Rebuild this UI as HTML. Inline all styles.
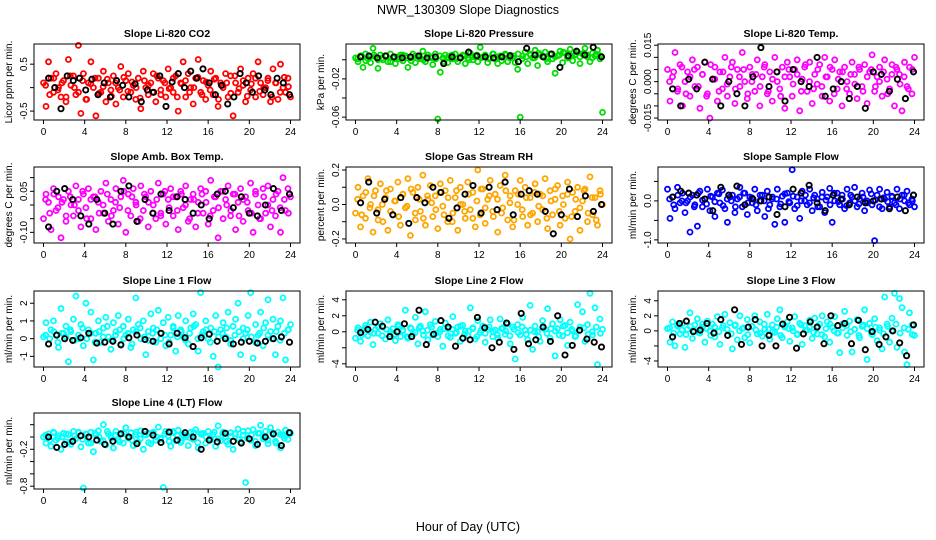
<!DOCTYPE html>
<html><head><meta charset="utf-8"><title>NWR_130309 Slope Diagnostics</title>
<style>html,body{margin:0;padding:0;background:#fff}svg{display:block;font-family:"Liberation Sans",Arial,sans-serif}</style>
</head><body>
<svg id="chart" width="936" height="540" viewBox="0 0 936 540" xmlns="http://www.w3.org/2000/svg">
<text x="468" y="14" text-anchor="middle" font-size="12.5">NWR_130309  Slope Diagnostics</text>
<text x="468" y="531" text-anchor="middle" font-size="12.5">Hour of Day (UTC)</text>
</svg>
<script>
const xTicks=[0,4,8,12,16,20,24];
const c1=[0.1,-0.4,0.55,0.2,-0.1,0.3,0.0,-0.2,0.15,-0.3,0.6,0.05,0.25,-0.15,0.9,-0.55,0.3,-0.25,0.1,0.55,0.0,-0.6,0.2,-0.1,0.35,-0.3,0.1,-0.05,0.25,-0.35,0.0,0.45,-0.2,0.15,0.3,-0.1,0.05,-0.25,0.2,-0.45,0.35,0.0,-0.15,0.1,0.3,-0.3,0.2,-0.05,0.15,-0.2,0.4,0.0,-0.1,0.25,-0.5,0.1,0.55,-0.2,0.3,0.0,-0.35,0.2,0.6,-0.1,0.15,-0.25,0.05,0.35,-0.15,0.2,-0.4,0.1,0.0,0.3,-0.2,0.25,-0.6,0.1,-0.1,0.4,0.05,-0.3,0.2,-0.05,0.3,-0.2,0.55,0.1,-0.15,0.0,0.2,-0.3,0.4,0.1,-0.25,0.5,0.0,-0.1,0.2,-0.2];
const d1=[0.05,-0.15,0.2,-0.05,0.1,-0.2,0.25,0.0,-0.1,0.15,-0.25,0.08,0.2,-0.12,0.02,0.18,-0.18,0.1,-0.05,0.22,-0.08,0.12,0.0,-0.22,0.15,0.05,-0.1,0.25,-0.15,0.1,-0.02,0.2,-0.2,0.08,0.15,-0.1,0.0,0.22,-0.15,0.12,-0.05,0.18,-0.25,0.05,0.1,-0.12,0.25,-0.02,0.15,-0.18,0.08,0.2,-0.08,0.0,0.15,-0.2,0.1,-0.1,0.22,0.02];
const b1=[0.2,0.0,-0.45,0.25,0.15,0.2,-0.05,0.18,-0.15,0.1,-0.2,0.15,0.05,-0.2,0.08,-0.3,-0.05,-0.1,0.25,-0.4,0.12,0.3,0.0,0.35,0.2,0.4,0.1,-0.15,0.05,-0.35,-0.2,0.3,0.1,-0.1,0.25,-0.05,-0.15,0.2,0.1,-0.15];
const c2=[0.002,-0.002,0.004,-0.008,0.006,0.001,-0.003,0.012,0.003,-0.009,0.005,0.0,0.004,-0.002,0.006,0.002,-0.004,0.003,0.005,-0.001,0.004,-0.008,0.002,0.006,-0.003,0.004,0.001,0.009,-0.002,0.005,0.003,-0.005,0.006,-0.062,-0.013,0.002,0.005,-0.003,0.004,0.001,0.006,-0.002,0.003,0.005,-0.004,0.002,0.007,0.0,0.004,-0.002,0.013,0.003,0.005,-0.003,0.002,0.006,0.001,-0.004,0.004,0.003,0.006,-0.002,0.005,0.002,-0.003,-0.01,-0.06,0.004,0.008,-0.004,0.006,0.002,0.01,-0.006,0.005,0.003,0.008,-0.002,0.006,0.001,-0.014,0.004,0.009,-0.003,0.007,0.002,0.011,-0.001,0.005,0.008,-0.004,0.006,0.012,0.003,-0.002,0.007,0.004,0.01,0.001,-0.055];
const d2=[0.001,0.004,-0.001,0.003,0.005,0.0,0.002,0.004,-0.002,0.003,0.001,0.005,0.002,-0.001,0.004,0.003,0.0,0.005,0.002,0.001,0.004,-0.002,0.003,0.005,0.001,0.002,0.004,0.0,0.003,0.005,0.002,0.004,0.001,0.006,0.003,-0.001,0.005,0.002,0.004,0.006,0.001,0.003,0.005,0.002,0.007,0.004,0.001,0.006,0.003,0.005,0.008,0.002,0.004,0.006,0.003,0.007,0.005,0.002,0.006,0.004];
const b2=[0.003,0.004,0.002,0.004,0.003,0.002,0.003,0.004,0.002,0.003,-0.004,0.003,0.002,0.008,0.004,0.003,0.002,0.003,0.004,-0.002,0.012,0.005,0.003,0.006,-0.008,0.004,0.009,0.005,0.013,0.003];
const c3=[0.005,-0.008,0.002,0.012,-0.004,0.007,-0.01,0.0,0.004,-0.006,0.009,-0.002,0.006,-0.011,0.003,0.008,-0.005,-0.015,0.001,0.006,-0.008,0.004,-0.003,0.01,-0.006,0.002,0.008,-0.009,0.005,-0.002,0.012,0.0,-0.007,0.006,0.003,-0.004,0.009,-0.01,0.002,0.007,-0.005,0.004,-0.008,0.01,0.0,-0.003,0.006,-0.011,0.008,0.002,-0.006,0.005,0.009,-0.012,0.001,0.006,-0.004,0.008,-0.009,0.003,-0.001,0.007,-0.006,0.01,0.002,-0.008,0.005,0.009,-0.003,0.004,-0.01,0.006,0.0,-0.005,0.008,0.003,-0.007,0.005,-0.002,0.007,-0.009,0.004,0.011,-0.004,0.002,0.006,-0.006,0.009,0.001,-0.003,0.007,-0.01,0.005,0.003,-0.012,0.008,-0.002,0.006,-0.005,0.01];
const d3=[0.0,0.004,-0.003,0.006,-0.005,0.002,0.005,-0.002,0.003,-0.006,0.007,0.001,-0.004,0.004,-0.001,0.006,-0.003,0.002,0.005,-0.005,0.0,0.003,-0.002,0.006,-0.004,0.001,0.004,-0.006,0.002,0.005,-0.001,0.003,-0.004,0.007,0.0,-0.003,0.005,-0.002,0.002,0.006,-0.005,0.001,0.004,-0.003,0.003,-0.001,0.006,-0.004,0.002,0.005,-0.002,0.0,0.004,-0.005,0.003,0.006,-0.001,0.002,-0.003,0.005];
const b3=[-0.003,-0.01,0.001,-0.003,0.008,0.001,-0.01,0.0,-0.005,-0.01,0.002,0.014,-0.002,0.004,-0.008,0.005,0.0,-0.002,0.01,-0.006,-0.003,0.0,-0.007,-0.002,-0.011,0.004,0.003,-0.004,0.001,-0.007,0.004];
const c4=[-0.05,0.04,0.01,-0.09,0.06,-0.02,0.03,-0.12,0.02,-0.06,0.05,0.0,-0.04,0.07,0.02,-0.08,0.04,-0.01,0.06,-0.05,0.03,-0.09,0.01,0.05,-0.03,0.08,-0.06,0.02,-0.02,0.06,-0.07,0.03,0.09,-0.1,0.04,-0.04,0.06,0.01,-0.06,0.07,-0.02,0.03,-0.08,0.05,0.0,-0.05,0.08,-0.03,0.04,-0.07,0.02,0.06,-0.04,0.03,-0.09,0.05,-0.01,0.07,-0.06,0.02,0.04,-0.08,0.01,0.06,-0.03,0.05,-0.07,0.09,-0.02,0.03,-0.12,0.05,-0.05,0.02,0.07,-0.04,0.04,-0.09,0.01,0.06,-0.06,0.03,-0.02,0.08,-0.1,0.04,0.0,-0.05,0.06,-0.03,0.07,-0.08,0.02,-0.04,0.05,-0.1,0.1,-0.02,0.06,0.03];
const d4=[0.02,-0.03,0.04,-0.01,0.01,-0.04,0.03,0.0,-0.02,0.05,-0.05,0.02,0.03,-0.03,0.0,0.04,-0.04,0.01,-0.01,0.05,-0.02,0.03,0.0,-0.05,0.04,0.01,-0.03,0.02,-0.04,0.05,-0.01,0.03,-0.02,0.04,0.0,-0.05,0.02,-0.03,0.04,0.01,-0.04,0.03,-0.01,0.05,0.0,-0.02,0.04,-0.04,0.02,0.01,-0.03,0.05,-0.05,0.03,0.0,-0.02,0.04,-0.01,0.02,-0.03];
const b4=[-0.08,0.05,0.06,0.02,-0.04,-0.07,0.02,-0.03,-0.07,0.05,0.07,-0.06,0.02,-0.03,0.04,-0.02,0.03,0.02,-0.03,0.0,-0.05,0.04,0.05,-0.01,0.03,-0.03,-0.04,0.0,0.06,-0.02,0.04];
const c5=[-0.05,0.1,-0.13,0.05,-0.08,0.15,0.0,-0.16,0.08,-0.03,0.12,-0.1,0.04,-0.15,0.09,-0.06,0.02,0.13,-0.12,0.06,-0.02,0.15,-0.18,0.07,-0.09,0.1,-0.04,0.17,-0.12,0.03,0.11,-0.07,0.05,-0.14,0.12,-0.01,0.08,-0.1,0.14,-0.05,0.04,-0.15,0.1,0.0,-0.08,0.13,-0.03,0.07,-0.13,0.2,-0.06,0.09,-0.11,0.03,0.14,-0.04,0.06,-0.16,0.11,-0.02,0.17,-0.09,0.05,-0.13,0.08,0.0,0.14,-0.07,0.1,-0.12,0.04,-0.05,0.12,-0.1,0.06,-0.03,0.15,-0.14,0.08,-0.06,0.03,0.11,-0.12,0.05,-0.08,0.13,-0.2,0.07,-0.04,0.1,-0.15,0.02,0.09,-0.1,0.16,-0.06,0.04,-0.12,0.08,0.0];
const d5=[0.03,-0.06,0.07,-0.02,0.05,-0.09,0.0,0.08,-0.04,0.02,-0.07,0.06,-0.01,0.09,-0.05,0.03,-0.08,0.05,0.01,-0.03,0.07,-0.06,0.04,-0.1,0.08,0.0,-0.04,0.06,-0.08,0.02,0.09,-0.02,0.05,-0.07,0.03,-0.05,0.08,0.01,-0.09,0.06,-0.03,0.04,-0.06,0.07,-0.01,0.05,-0.08,0.02,0.09,-0.04,0.0,0.06,-0.07,0.03,-0.02,0.08,-0.05,0.04,-0.09,0.06];
const b5=[0.01,0.13,-0.05,0.03,-0.06,0.04,-0.11,0.04,0.01,0.1,0.07,-0.08,-0.02,0.06,0.11,-0.05,0.1,-0.03,0.13,-0.06,0.06,0.08,0.06,-0.04,-0.17,-0.06,0.09,-0.07,0.05,-0.04,0.0];
const c6=[0.3,-0.45,0.1,-0.2,0.35,-0.05,0.2,-0.3,0.0,-0.8,0.15,-0.1,-0.65,0.25,-0.15,0.05,0.3,-0.25,0.1,-0.4,0.2,-0.05,0.28,-0.2,-0.55,0.1,0.15,-0.3,0.05,0.35,-0.15,0.2,-0.35,0.1,-0.05,0.3,-0.25,0.0,0.15,-0.4,0.25,-0.1,0.05,-0.6,0.3,-0.15,0.12,-0.55,0.2,-0.05,0.8,-0.2,0.1,-0.45,0.25,0.0,-0.1,0.3,-0.25,0.15,0.05,-0.15,0.22,-0.3,0.1,0.32,-0.55,0.0,0.2,-0.1,0.15,-0.2,0.3,-0.05,0.1,0.35,-0.15,0.05,0.2,-0.25,0.0,0.28,-0.1,-1.02,0.15,0.3,-0.2,0.05,0.22,-0.15,0.1,-0.05,0.3,-0.2,0.15,0.0,0.25,-0.1,0.05,-0.15];
const d6=[0.05,-0.1,0.15,0.0,-0.05,0.1,-0.15,0.2,0.02,-0.08,0.12,-0.02,0.18,-0.12,0.05,0.0,-0.15,0.1,0.2,-0.05,0.08,-0.1,0.15,0.0,-0.2,0.1,0.05,-0.08,0.18,-0.02,0.12,-0.12,0.0,0.15,-0.05,0.08,-0.15,0.1,0.02,-0.1,0.2,-0.02,0.05,-0.12,0.15,0.0,-0.08,0.1,-0.05,0.18,0.02,-0.15,0.08,-0.02,0.12,-0.1,0.05,0.15,-0.05,0.0];
const b6=[0.1,0.25,0.2,0.15,0.05,-0.25,0.35,0.15,0.38,-0.1,0.05,0.0,0.1,-0.35,-0.15,0.3,0.2,0.4,-0.05,-0.25,0.15,0.05,-0.1,0.1,-0.05,0.0,0.05,-0.2,0.1,-0.25,0.15];
const c7=[0.1,0.9,-0.3,0.5,1.0,0.2,-0.5,1.7,0.3,0.7,-1.3,0.4,1.1,2.4,0.0,0.8,-0.4,2.0,0.5,1.5,-1.2,0.3,1.0,-0.2,0.6,1.2,0.1,-0.6,0.9,0.4,1.3,-0.3,0.7,0.2,1.1,-0.5,0.5,2.3,0.8,0.0,1.0,-0.9,0.4,1.4,0.6,-0.2,1.6,0.3,0.9,-0.4,1.2,0.2,0.7,-0.7,1.3,0.5,0.1,1.0,-0.3,0.6,1.4,0.8,-0.7,2.6,0.4,1.0,0.0,0.6,-1.0,1.3,-1.6,0.5,0.9,0.1,1.5,-0.3,0.7,1.1,2.0,-0.9,0.6,0.3,1.3,2.6,-1.1,0.8,0.2,1.5,-0.4,0.9,2.2,0.4,1.1,-0.9,0.7,1.0,2.3,-1.2,0.5,0.8];
const d7=[0.2,0.0,0.4,-0.2,0.3,0.1,0.5,-0.1,0.2,0.6,0.0,0.3,-0.2,0.4,0.1,0.7,-0.1,0.2,0.5,0.0,0.3,-0.3,0.4,0.6,0.1,-0.1,0.3,0.5,0.0,0.2,-0.2,0.6,0.1,0.4,-0.1,0.3,0.7,0.0,0.2,0.5,-0.2,0.4,0.1,0.3,0.6,-0.1,0.2,0.4,0.0,0.5,0.1,-0.2,0.3,0.6,0.2,0.0,0.4,-0.1,0.3,0.5];
const b7=[-0.3,0.2,0.0,-0.1,0.05,0.3,-0.25,-0.2,-0.15,-0.35,0.05,0.2,-0.05,-0.15,0.3,-0.3,0.3,0.05,-0.45,0.05,0.25,-0.15,0.0,-0.3,-0.2,-0.15,-0.25,-0.15,0.0,0.1,-0.2];
const c8=[-0.8,0.5,-1.2,0.2,0.8,-0.5,1.2,-1.6,0.3,-0.2,1.0,0.6,-0.9,1.5,-0.3,0.4,-1.1,0.9,-0.6,0.2,2.7,-0.8,0.5,-0.3,1.8,-1.5,0.7,0.1,2.5,-1.0,0.9,-0.4,1.3,-0.6,0.3,-1.8,1.1,0.4,-0.7,1.9,-0.2,0.6,-1.2,0.8,0.1,-0.5,3.0,0.4,-0.9,1.4,-0.1,0.7,-1.3,0.3,1.5,-0.6,0.2,-0.8,1.6,0.5,-0.3,1.0,-1.5,0.6,-3.4,0.9,-0.4,1.8,0.2,-1.0,3.3,-2.2,0.7,0.0,-1.2,1.4,0.3,2.9,-0.8,1.0,-3.0,0.4,1.5,-0.5,0.8,-1.7,1.2,0.1,-0.6,3.4,0.6,2.5,-1.2,0.9,4.8,-0.4,3.0,-4.1,1.6,0.3];
const d8=[0.2,-0.4,0.5,0.0,-0.2,0.6,-0.5,0.3,0.0,-0.3,0.7,0.1,-0.6,0.4,-0.1,0.5,-0.4,0.2,0.6,-0.2,0.0,0.4,-0.5,0.3,-0.1,0.7,-0.3,0.1,0.5,-0.6,0.2,-0.2,0.6,0.0,-0.4,0.4,0.1,-0.5,0.3,-0.1,0.6,-0.3,0.2,0.0,-0.6,0.5,-0.2,0.4,0.1,-0.4,0.7,-0.1,0.3,-0.5,0.2,0.5,-0.3,0.0,0.6,-0.2];
const b8=[-0.1,0.3,1.2,0.7,-0.6,0.0,1.0,-0.6,2.7,-1.6,-0.3,1.4,0.6,-1.8,-0.8,-1.0,1.8,0.5,-2.0,-1.3,1.1,-2.2,2.3,-1.5,-1.0,0.6,-1.2,2.0,-2.9,-1.7,0.2,-0.9,-1.3,-1.9];
const c9=[0.3,-1.5,1.2,-2.0,0.6,-0.4,1.0,-2.2,0.2,2.4,-1.0,0.8,1.6,-0.3,0.5,-1.5,1.3,0.0,0.9,-0.8,1.9,-1.8,0.4,2.2,-0.6,1.1,-2.4,0.7,-1.2,2.0,0.3,-0.9,1.5,-1.6,0.6,2.0,-0.4,1.2,-0.7,0.2,2.2,-1.1,0.8,-0.2,1.6,2.8,-0.9,0.5,1.2,-1.4,0.4,1.9,-0.5,1.0,-1.8,0.7,0.1,1.4,-1.0,1.7,-0.4,0.9,2.0,-0.8,1.2,-1.5,0.5,1.9,-0.3,-2.9,0.9,2.6,-0.6,1.3,-2.8,0.2,1.5,-0.9,0.6,2.8,-3.8,1.0,-0.5,1.6,-1.3,0.4,-2.4,4.5,0.9,-1.5,1.7,5.0,-2.2,4.3,3.1,-2.8,-4.5,2.4,0.8,-0.6];
const d9=[0.4,-0.3,0.8,0.1,-0.5,0.6,0.0,-0.2,0.9,0.3,-0.6,0.5,-0.1,0.7,0.2,-0.4,0.8,0.0,0.4,-0.5,0.6,0.1,-0.3,0.9,0.2,-0.1,0.5,-0.6,0.7,0.3,0.0,-0.4,0.8,0.1,0.5,-0.2,0.6,-0.5,0.3,0.9,0.0,-0.3,0.4,0.7,-0.1,0.2,-0.6,0.8,0.3,-0.2,0.5,0.1,-0.4,0.6,0.0,0.9,-0.3,0.4,0.2,-0.5];
const b9=[-0.8,1.0,1.3,-0.1,0.1,1.0,-0.3,1.5,-0.6,2.8,-1.8,0.5,1.5,-2.0,-0.6,-2.0,0.9,1.8,-2.3,-0.4,1.2,0.5,-1.7,2.0,0.7,1.0,-1.7,1.4,-2.5,-0.1,-1.8,-0.8,0.0,-1.6,-3.3,0.8];
const c10=[0.0,-0.1,0.05,-0.15,0.08,-0.05,0.02,-0.2,0.06,-0.08,0.04,-0.12,0.09,-0.03,0.07,-0.16,-0.83,0.05,-0.1,0.08,-0.24,0.03,0.1,-0.07,0.2,-0.13,0.05,0.02,-0.18,0.09,-0.05,0.06,-0.1,0.15,-0.02,0.07,-0.14,0.04,-0.08,0.1,-0.2,0.03,0.06,-0.11,0.08,-0.05,0.16,-0.02,-0.82,0.09,0.02,-0.15,0.07,-0.06,0.11,-0.09,0.04,0.0,-0.14,0.08,-0.04,0.12,-0.18,0.05,0.06,-0.1,0.09,-0.02,0.04,-0.15,0.18,-0.06,0.08,0.01,-0.12,0.07,-0.2,0.05,0.13,-0.08,0.03,-0.74,0.1,-0.05,0.12,-0.14,0.06,0.19,-0.03,0.09,-0.11,0.15,0.04,-0.07,0.08,-0.18,0.02,0.11,-0.04,0.06];
const d10=[0.03,-0.05,0.07,-0.02,0.0,0.05,-0.08,0.02,0.08,-0.04,0.04,-0.1,0.06,0.0,-0.06,0.09,-0.02,0.03,-0.08,0.06,0.01,-0.05,0.08,-0.03,0.04,-0.09,0.07,0.0,-0.04,0.05,-0.07,0.09,0.02,-0.06,0.03,-0.01,0.07,-0.09,0.04,0.0,-0.05,0.08,-0.03,0.06,-0.08,0.01,0.05,-0.04,0.09,-0.02,0.03,-0.07,0.06,0.0,-0.05,0.08,-0.1,0.04,-0.02,0.07];
const b10=[0.0,-0.17,-0.12,-0.07,0.02,0.0,-0.05,-0.12,-0.07,0.05,0.0,-0.11,0.09,0.03,-0.09,0.08,-0.05,0.07,0.0,-0.2,-0.05,-0.08,0.06,-0.07,-0.1,-0.03,-0.12,0.0,0.05,-0.14,0.07];
const titles=["Slope Li-820 CO2","Slope Li-820 Pressure","Slope Li-820 Temp.","Slope Amb. Box Temp.","Slope Gas Stream RH","Slope Sample Flow","Slope Line 1 Flow","Slope Line 2 Flow","Slope Line 3 Flow","Slope Line 4 (LT) Flow"];
const yLabels=["Licor ppm per min.","kPa per min.","degrees C per min.","degrees C per min.","percent per min.","ml/min per min.","ml/min per min.","ml/min per min.","ml/min per min.","ml/min per min."];
const yTickVals=[[-0.5,0,0.5],[-0.06,-0.04,-0.02,0],[-0.015,-0.01,-0.005,0,0.005,0.01,0.015],[-0.1,-0.05,0,0.05,0.1],[-0.2,-0.1,0,0.1,0.2],[-1,-0.5,0,0.5],[-1,0,1,2],[-4,-2,0,2,4],[-4,-2,0,2,4],[-0.8,-0.6,-0.4,-0.2,0,0.2]];
const yTickText=[["-0.5","","0.5"],["-0.06","","-0.02",""],["-0.015","","","0.000","","","0.015"],["-0.10","","","0.05",""],["-0.2","","0.0","","0.2"],["-1.0","","0.0",""],["-1","0","1","2"],["-4","","0","2","4"],["-4","","0","2","4"],["-0.8","","","-0.2","",""]];
const yDomains=[[-0.69,0.93],[-0.063,0.0165],[-0.0158,0.0155],[-0.139,0.139],[-0.2235,0.2176],[-1.08,0.87],[-1.6,2.69],[-4.4,5.1],[-4.8,5.3],[-0.846,0.39]];
const colored=[c1,c2,c3,c4,c5,c6,c7,c8,c9,c10];
const coreColored=[d1,d2,d3,d4,d5,d6,d7,d8,d9,d10];
const blacks=[b1,b2,b3,b4,b5,b6,b7,b8,b9,b10];
const colors=["#ff0000","#00dd00","#ff00ff","#ff00ff","#ffa500","#0000ff","#00ffff","#00ffff","#00ffff","#00ffff"];

const NS="http://www.w3.org/2000/svg";
const svg=document.getElementById('chart');
const lefts=[34,346,658], tops=[44,167,291,413], W=266, H=76;
function mk(tag,attrs,parent){const e=document.createElementNS(NS,tag);for(const k in attrs)e.setAttribute(k,attrs[k]);parent.appendChild(e);return e;}
for(let p=0;p<10;p++){
  const L=lefts[p%3], T=tops[Math.floor(p/3)];
  const g=mk('g',{},svg);
  
  
  const xs=h=>L+9.5+h*(247/24);
  const [y0,y1]=yDomains[p];
  const ys=v=>T+H-(v-y0)/(y1-y0)*H;
  const t=mk('text',{x:L+W/2,y:T-7,'text-anchor':'middle','font-size':'10.5','font-weight':'bold'},g);
  t.textContent=titles[p];
  
  
  const yl=mk('text',{transform:`translate(${L-22},${T+H/2}) rotate(-90)`,'text-anchor':'middle','font-size':'10'},g);
  yl.textContent=yLabels[p];
  
  
  const pts=mk('g',{fill:'none',stroke:colors[p],'stroke-width':'1.8'},g);
  
  
  const cs=colored[p];
  cs.forEach((v,i)=>{const c=mk('circle',{cx:xs(24*i/(cs.length-1)).toFixed(1),cy:ys(v).toFixed(1),r:'2.5'},pts);
    
    });
  const ds=coreColored[p];
  ds.forEach((v,i)=>{const c=mk('circle',{cx:xs(0.2+23.6*i/(ds.length-1)).toFixed(1),cy:ys(v).toFixed(1),r:'2.5'},pts);
    
    });
  const bp=mk('g',{fill:'none',stroke:'#000','stroke-width':'1.9'},g);
  
  
  const bs=blacks[p];
  bs.forEach((v,i)=>{const c=mk('circle',{cx:xs(0.5+23.4*i/(bs.length-1)).toFixed(1),cy:ys(v).toFixed(1),r:'2.6'},bp);
    
    });
  const box=mk('rect',{x:L,y:T,width:W,height:H,fill:'none',stroke:'#000','stroke-width':'1'},g);
  
  
  const xa=mk('g',{stroke:'#000','stroke-width':'1'},g);
  
  
  mk('line',{x1:xs(0),x2:xs(24),y1:T+H,y2:T+H},xa);
  xTicks.forEach(h=>{mk('line',{x1:xs(h),x2:xs(h),y1:T+H,y2:T+H+4},xa);
    const tx=mk('text',{x:xs(h),y:T+H+15,'text-anchor':'middle','font-size':'10',stroke:'none',fill:'#000'},xa);
    tx.textContent=h;
    
    });
  const ya=mk('g',{stroke:'#000','stroke-width':'1'},g);
  
  
  const tv=yTickVals[p];
  mk('line',{x1:L,x2:L,y1:ys(tv[0]),y2:ys(tv[tv.length-1])},ya);
  tv.forEach((v,i)=>{const y=ys(v);mk('line',{x1:L-4,x2:L,y1:y,y2:y},ya);
    if(yTickText[p][i]){const tx=mk('text',{transform:`translate(${L-7},${y}) rotate(-90)`,'text-anchor':'middle','font-size':'10',stroke:'none',fill:'#000'},ya);
      tx.textContent=yTickText[p][i];
      
      }});
}
</script>
</body></html>
